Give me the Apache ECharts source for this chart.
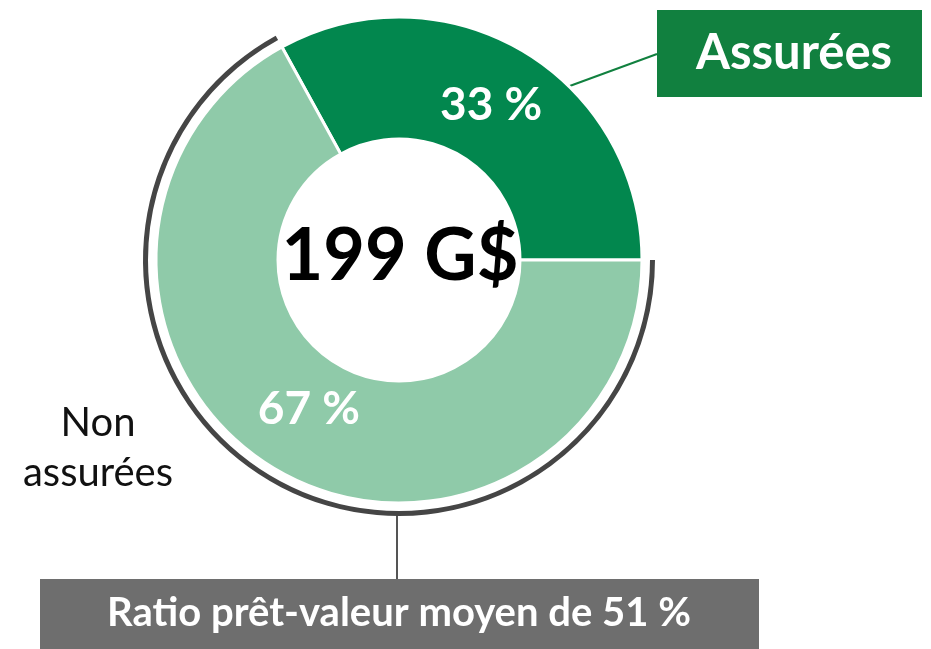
<!DOCTYPE html>
<html>
<head>
<meta charset="utf-8">
<script src="https://cdn.jsdelivr.net/npm/echarts@6/dist/echarts.min.js"></script>
<style>
  html, body { margin: 0; padding: 0; background: #fff; }
  #chart { width: 931px; height: 649px; }
</style>
</head>
<body>
<div id="chart"></div>
<script>
// données
var categories = ['Assurées', 'Non assurées'];
var shares = [33, 67];
var total = '199 G$';
var ratioText = 'Ratio prêt-valeur moyen de 51 %';

var font = 'Lato, "Noto Sans", sans-serif';
var darkGreen = '#02874e';
var lightGreen = '#8fcaa9';
var labelOffsets = [[-2, 4], [4, -10]]; // petit décalage des étiquettes %

var chart = echarts.init(document.getElementById('chart'));

var donutData = categories.map(function (name, i) {
    return {
        name: name,
        value: shares[i],
        itemStyle: { color: i === 0 ? darkGreen : lightGreen },
        label: { offset: labelOffsets[i] }
    };
});

// arc gris foncé autour de la part non assurée
var arcData = categories.map(function (name, i) {
    return {
        name: name,
        value: shares[i],
        itemStyle: { color: i === 0 ? 'rgba(0,0,0,0)' : '#454545' }
    };
});

var option = {
    backgroundColor: '#ffffff',
    animation: false,
    series: [{
        type: 'pie',
        center: [399, 260],
        radius: [121, 243],
        startAngle: 0,
        clockwise: false,
        silent: true,
        itemStyle: { borderColor: '#ffffff', borderWidth: 3 },
        label: {
            show: true,
            position: 'inside',
            formatter: '{c} %',
            color: '#ffffff',
            fontFamily: font,
            fontWeight: 'bold',
            fontSize: 46
        },
        labelLine: { show: false },
        emphasis: { disabled: true },
        data: donutData
    }, {
        type: 'pie',
        center: [399, 260],
        radius: [251, 256],
        startAngle: 0,
        clockwise: false,
        silent: true,
        label: { show: false },
        labelLine: { show: false },
        emphasis: { disabled: true },
        data: arcData
    }],
    graphic: [
        {
            type: 'text',
            x: 400, y: 257,
            style: {
                text: total,
                font: 'bold 72px ' + font,
                fill: '#000',
                textAlign: 'center',
                textVerticalAlign: 'middle'
            }
        },
        {
            type: 'text',
            x: 98, y: 448,
            style: {
                text: 'Non\nassurées',
                font: '40px ' + font,
                lineHeight: 50,
                fill: '#111',
                textAlign: 'center',
                textVerticalAlign: 'middle'
            }
        },
        {
            type: 'line',
            shape: { x1: 567, y1: 87, x2: 657, y2: 54 },
            style: { stroke: '#11803f', lineWidth: 2 }
        },
        {
            type: 'rect',
            shape: { x: 657, y: 10, width: 265, height: 87 },
            style: { fill: '#11803f' }
        },
        {
            type: 'text',
            x: 794, y: 53,
            style: {
                text: categories[0],
                font: 'bold 49px ' + font,
                fill: '#fff',
                textAlign: 'center',
                textVerticalAlign: 'middle'
            }
        },
        {
            type: 'line',
            shape: { x1: 397, y1: 514, x2: 397, y2: 579 },
            style: { stroke: '#555', lineWidth: 2 }
        },
        {
            type: 'rect',
            shape: { x: 40, y: 579, width: 719, height: 70 },
            style: { fill: '#6e6e6e' }
        },
        {
            type: 'text',
            x: 399, y: 613,
            style: {
                text: ratioText,
                font: 'bold 40px ' + font,
                fill: '#fff',
                textAlign: 'center',
                textVerticalAlign: 'middle'
            }
        }
    ]
};

chart.setOption(option);
</script>
</body>
</html>
